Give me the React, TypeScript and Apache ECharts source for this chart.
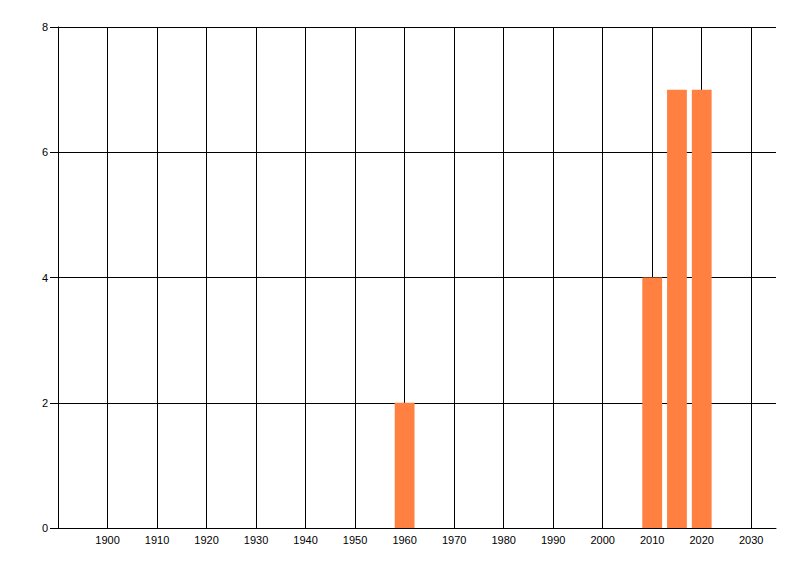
import React, { useEffect, useRef } from "react";
import * as echarts from "echarts";

const years = [1960, 2010, 2015, 2020];
const counts = [2, 4, 7, 7];
const xMin = 1890;
const xMax = 2035;
const xStep = 10;
const yMin = 0;
const yMax = 8;
const yStep = 2;
const barHalfSpan = 2; // years on each side of the category value

const BAR_COLOR = "#FF8040";
const FONT = "'Liberation Sans', Arial, sans-serif";

export default function App() {
  const ref = useRef<HTMLDivElement>(null);
  useEffect(() => {
    if (!ref.current) return;
    const chart = echarts.init(ref.current, undefined, { renderer: "svg" });
    const data = years.map((y, i) => [y, counts[i]]);
    chart.setOption({
      animation: false,
      backgroundColor: "#ffffff",
      grid: { left: 58, top: 27, right: 24, bottom: 48, containLabel: false },
      xAxis: {
        type: "value",
        min: xMin,
        max: xMax,
        interval: xStep,
        axisLine: { show: true, onZero: false, lineStyle: { color: "#000", width: 1 } },
        axisTick: { show: false },
        axisLabel: {
          show: true,
          color: "#000",
          fontFamily: FONT,
          fontSize: 11,
          margin: 6,
          showMinLabel: false,
          showMaxLabel: false,
          formatter: (v: number) => (v % 10 === 0 ? String(v) : ""),
        },
        splitLine: {
          show: true,
          showMinLine: false,
          showMaxLine: false,
          lineStyle: { color: "#000", width: 1 },
        },
      },
      yAxis: {
        type: "value",
        min: yMin,
        max: yMax,
        interval: yStep,
        axisLine: { show: true, lineStyle: { color: "#000", width: 1 } },
        axisTick: { show: true, length: 8, lineStyle: { color: "#000" } },
        axisLabel: { color: "#000", fontFamily: FONT, fontSize: 11, margin: 10 },
        splitLine: { show: true, lineStyle: { color: "#000", width: 1 } },
      },
      series: [
        {
          type: "custom",
          data,
          z: 5,
          renderItem: (_params: any, api: any) => {
            const x = api.value(0);
            const v = api.value(1);
            const p0 = api.coord([x - barHalfSpan, v]);
            const p1 = api.coord([x + barHalfSpan, 0]);
            return {
              type: "rect",
              shape: { x: p0[0], y: p0[1], width: p1[0] - p0[0], height: p1[1] - p0[1] },
              style: { fill: BAR_COLOR },
            };
          },
        },
      ],
    });
    return () => chart.dispose();
  }, []);
  return (
    <div
      ref={ref}
      style={{ position: "fixed", left: 0, top: 0, width: 800, height: 576, background: "#fff" }}
    />
  );
}
